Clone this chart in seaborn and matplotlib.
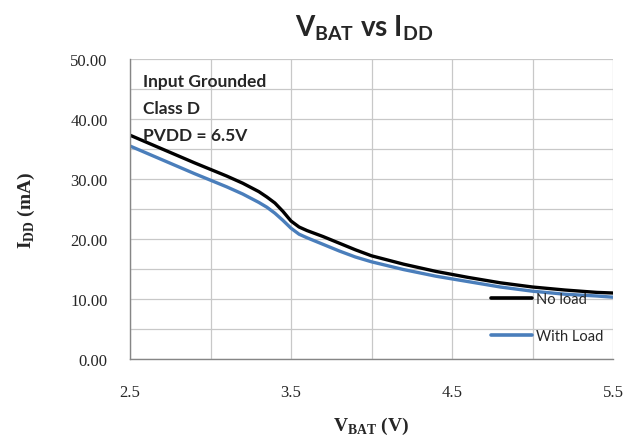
import matplotlib
matplotlib.use("Agg")
import matplotlib.pyplot as plt
import seaborn as sns
import pandas as pd

vbat = [2.5, 2.7, 2.9, 3.0, 3.1, 3.2, 3.3, 3.35, 3.4, 3.45, 3.5, 3.55, 3.6, 3.7,
        3.8, 3.9, 4.0, 4.2, 4.4, 4.6, 4.8, 5.0, 5.2, 5.4, 5.5]
no_load = [37.3, 35.0, 32.7, 31.6, 30.5, 29.3, 27.9, 27.0, 26.0, 24.6, 23.0, 22.0,
           21.4, 20.4, 19.3, 18.2, 17.2, 15.8, 14.6, 13.6, 12.7, 12.0, 11.5, 11.1, 11.0]
with_load = [35.5, 33.2, 30.9, 29.8, 28.7, 27.5, 26.1, 25.3, 24.3, 23.1, 21.8, 20.8,
             20.2, 19.1, 18.0, 17.0, 16.2, 14.9, 13.8, 12.9, 12.0, 11.3, 10.8, 10.5, 10.3]
series_names = ["No load", "With Load"]
x_ticks = [2.5, 3.5, 4.5, 5.5]
y_ticks = [0, 10, 20, 30, 40, 50]
notes = ["Input Grounded", "Class D", "PVDD = 6.5V"]

df = pd.DataFrame({
    "V": vbat * 2,
    "I": no_load + with_load,
    "s": [series_names[0]] * len(vbat) + [series_names[1]] * len(vbat),
})

sns.set_style("white")
plt.rcParams["mathtext.fontset"] = "custom"
plt.rcParams["mathtext.rm"] = "Liberation Serif:bold"
plt.rcParams["mathtext.bf"] = "Lato:bold"

fig = plt.figure(figsize=(6.34, 4.39), dpi=100)
ax = fig.add_axes([130 / 634, 1 - 360 / 439, 483 / 634, 300 / 439])

sns.lineplot(data=df, x="V", y="I", hue="s", palette=["#000000", "#4a7ebb"],
             linewidth=2.4, ax=ax, legend=True)

ax.set_xlim(2.5, 5.5)
ax.set_ylim(0, 50)
xgrid = [2.5 + 0.5 * i for i in range(7)]
ygrid = [5 * i for i in range(11)]
ax.set_xticks(xgrid)
ax.set_xticklabels([f"{t:g}" if t in x_ticks else "" for t in xgrid],
                   family="Liberation Serif", fontsize=12)
ax.set_yticks(ygrid)
ax.set_yticklabels([f"{t:.2f}" if t in y_ticks else "" for t in ygrid],
                   family="Liberation Serif", fontsize=12)
ax.tick_params(axis="x", length=0, pad=18)
ax.tick_params(axis="y", length=0, pad=16)
ax.grid(True, color="#c8c8c8", linewidth=0.9)
ax.set_axisbelow(True)
for side in ["top", "right"]:
    ax.spines[side].set_visible(False)
for side in ["left", "bottom"]:
    ax.spines[side].set_color("#868686")
    ax.spines[side].set_linewidth(1.0)

ax.set_xlabel(r"V$_{\mathrm{BAT}}$ (V)", family="Liberation Serif", fontweight="bold",
              fontsize=14, labelpad=11)
ax.set_ylabel(r"I$_{\mathrm{DD}}$ (mA)", family="Liberation Serif", fontweight="bold",
              fontsize=14, labelpad=24)

fig.text(364 / 634, 1 - 36 / 439, r"V$_{\mathbf{BAT}}$ vs I$_{\mathbf{DD}}$",
         family="Lato", fontweight="bold", fontsize=20, ha="center", va="baseline")

for i, n in enumerate(notes):
    ax.text(143 / 634, 1 - (87 + 27 * i) / 439, n, transform=fig.transFigure,
            family="Lato", fontweight="bold", fontsize=12.5, va="baseline", ha="left")

leg = ax.legend(loc="upper left", bbox_to_anchor=(478 / 634, 1 - 280 / 439),
                bbox_transform=fig.transFigure, frameon=False,
                prop={"family": "Lato", "size": 10.5}, handlelength=2.8,
                labelspacing=1.6, handletextpad=0.3)
for h in leg.get_lines():
    h.set_linewidth(2.6)

fig.savefig("out.png", dpi=100)
